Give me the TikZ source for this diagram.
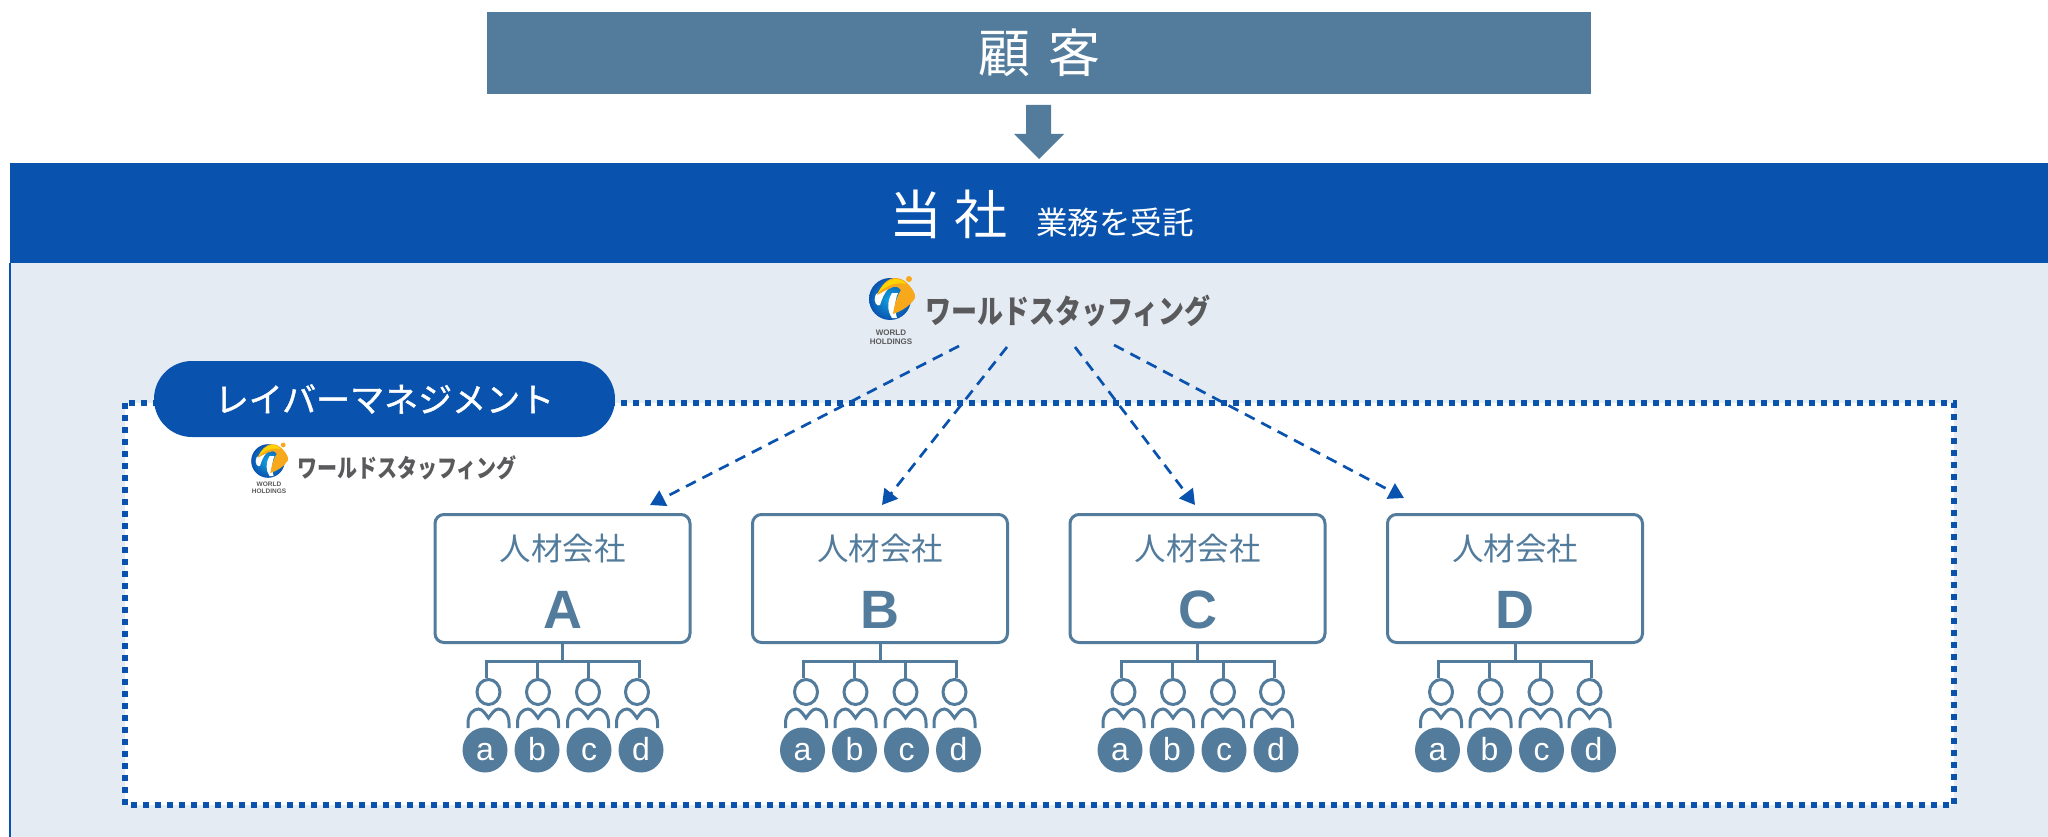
\documentclass[tikz,border=0pt]{standalone}
\usepackage{fontspec}
\usepackage{graphicx}
\setmainfont{Liberation Sans}
\newfontfamily\jpfont{Noto Sans CJK JP}
\newfontfamily\jpmid[FakeBold=1.2]{Noto Sans CJK JP}
\usetikzlibrary{arrows.meta,calc,shadings}
\definecolor{slate}{HTML}{527B9C}
\definecolor{bandblue}{HTML}{0953AF}
\definecolor{palebg}{HTML}{E4EBF3}
\definecolor{logosun}{HTML}{F7A81B}
\definecolor{logolemon}{HTML}{FFD500}
\definecolor{logosky}{HTML}{12A5DE}
\definecolor{logogray}{HTML}{5A5A5C}
\tikzstyle{titlebox} = [fill=slate,text=white,minimum width=1104pt,minimum height=82pt,inner sep=0pt,font=\jpfont\fontsize{52}{52}\selectfont]
\tikzstyle{pillbox} = [fill=bandblue,text=white,rounded corners=38pt,minimum width=461pt,minimum height=76pt,inner sep=0pt,font=\jpmid\fontsize{34}{34}\selectfont]
\tikzstyle{firmbox} = [draw=slate,fill=white,line width=3pt,rounded corners=9pt,minimum width=255pt,minimum height=128pt,inner sep=0pt]
\tikzstyle{firmlabel} = [text=slate,inner sep=0pt,font=\jpfont\fontsize{31.5}{32}\selectfont]
\tikzstyle{firmletter} = [text=slate,inner sep=0pt,font=\fontsize{54}{54}\selectfont\bfseries]
\tikzstyle{staffdot} = [circle,fill=slate,text=white,minimum size=45pt,inner sep=0pt,text height=20pt,text depth=0pt,font=\fontsize{32}{32}\selectfont]
\tikzstyle{orgline} = [draw=slate,line width=3pt]
\tikzstyle{dashlink} = [draw=bandblue,line width=2.7pt,dash pattern=on 11pt off 7.5pt,-{Triangle[length=15pt,width=17pt]}]
\tikzstyle{logotext} = [text=logogray,inner sep=0pt]
% logo icon: centre x, y, size factor
\newcommand{\worldlogo}[3]{
    \begin{scope}[shift={(#1,#2)},scale=#3]
        \shade[inner color=logosky,outer color=bandblue] (0,0) circle (21);
        \fill[white] (-14,-5) .. controls (-18,4) and (-12,8) .. (-10,6) .. controls (-8,0) and (-6,-6) .. (-1,-11) -- cycle;
        \fill[white] (2,-6) .. controls (-3,2) and (-3,12) .. (2,19) -- (7,19) .. controls (4,10) and (5,0) .. (8,-6) -- cycle;
        \fill[logosun] (-13,-4) .. controls (-9,-14) and (-2,-21) .. (5,-21) .. controls (10,-21) and (14,-19) .. (17,-16) .. controls (21,-12) and (26,-6) .. (25,-1) .. controls (21,6) and (12,12) .. (3,15) .. controls (4,7) and (7,-3) .. (11,-9) .. controls (8,-13) and (4,-13) .. (1,-11) .. controls (-4,-9) and (-9,-6) .. (-13,-4) -- cycle;
        \fill[logolemon] (-12,-6) .. controls (-8,-14) and (-1,-20) .. (5,-20) .. controls (10,-20) and (14,-18) .. (16,-15) .. controls (8,-17) and (-2,-15) .. (-12,-6) -- cycle;
        \fill[logosun] (19,-20) circle (3);
    \end{scope}
}
\begin{document}
\begin{tikzpicture}[x=1pt,y=-1pt]
    \useasboundingbox (0,0) rectangle (2048,837);

    % First we draw the two bands and the customer box
    \fill[palebg] (10,263) rectangle (2048,837);
    \draw[bandblue,line width=2pt] (10,263) -- (10,837);
    \fill[bandblue] (10,163) rectangle (2048,263);
    \node[titlebox] (customer) at (1039,53) {顧\hspace{18pt}客};
    \node[inner sep=0pt,text=white,font=\jpfont\fontsize{53}{53}\selectfont] (company) at (948.5,214) {当\hspace{13pt}社};
    \node[inner sep=0pt,text=white,font=\jpfont\fontsize{31.5}{32}\selectfont] (companynote) at (1115,222) {業務を受託};

    % Block arrow between customer and company
    \fill[slate] (1026,105) -- (1051,105) -- (1051,134) -- (1064,134) -- (1039,159) -- (1014,134) -- (1026,134) -- cycle;

    % Dotted management frame with its pill
    \draw[bandblue,fill=white,line width=6pt,dash pattern=on 6pt off 6pt] (125,403) rectangle (1954,805);
    \node[pillbox] (manage) at (384.5,399) {レイバーマネジメント};

    % The two logos
    \worldlogo{890}{299}{1}
    \node[logotext,font=\jpfont\bfseries\fontsize{26}{27}\selectfont] (toplogotext) at (1068,311) {\scalebox{1}[1.25]{ワールドスタッフィング}};
    \node[text=logogray,inner sep=0pt,align=center,font=\bfseries\fontsize{8}{8.5}\selectfont] (topworld) at (891,337) {WORLD\\HOLDINGS};
    \worldlogo{268}{461}{0.8}
    \node[logotext,font=\jpfont\bfseries\fontsize{20}{21}\selectfont] (sublogotext) at (407,467.5) {\scalebox{1}[1.25]{ワールドスタッフィング}};
    \node[text=logogray,inner sep=0pt,align=center,font=\bfseries\fontsize{6.5}{7}\selectfont] (subworld) at (269,488) {WORLD\\HOLDINGS};

    % Now the four firms and their staff
    \foreach \pos/ \name in {{562.5/A},{880/B},{1197.5/C},{1515/D}} {
        \node[firmbox] (\name) at (\pos,578.5) {};
        \node[firmlabel] (\name label) at (\pos,549) {人材会社};
        \node[firmletter,anchor=base] (\name letter) at (\pos,628) {\name};
        \coordinate (\name bus) at (\pos,661);
        \draw[orgline] (\name.south) -- (\name bus);
        \draw[orgline] ($(\name bus)+(-78,0)$) -- ($(\name bus)+(78,0)$);
        \foreach \off/ \staff/ \headx/ \dotx in {{-76.5/a/-74/-77.5},{-25.5/b/-24.5/-25.5},{25.5/c/25.5/26.5},{76.5/d/74.5/78.5}} {
            \draw[orgline] ($(\name bus)+(\off,0)$) -- ($(\name bus)+(\off,17)$);
            \begin{scope}[shift={(\pos+\headx,0)}]
                \draw[slate,line width=3pt] (0,692) ellipse (11.5 and 12.5);
                \draw[slate,line width=3pt] (-20.5,728) -- (-20.5,723) .. controls (-20.5,714) and (-15,709) .. (-10,709) .. controls (-6,709) and (-3,714) .. (0,718) .. controls (3,714) and (6,709) .. (10,709) .. controls (15,709) and (20.5,714) .. (20.5,723) -- (20.5,728);
            \end{scope}
            \node[staffdot] (\name\staff) at (\pos+\dotx,750) {\staff};
        }
    }

    % Connect the logo to the firms with dashed arrows
    \foreach \source/ \dest/ \sx/ \sy/ \dx/ \dy in {{t1/e1/959/346/650/505},{t2/e2/1007/347/882/505},{t3/e3/1075/347/1195/505},{t4/e4/1114/345/1404/498}} {
        \coordinate (\source) at (\sx,\sy);
        \coordinate (\dest) at (\dx,\dy);
        \path[dashlink] (\source) -- (\dest);
    }
\end{tikzpicture}
\end{document}
